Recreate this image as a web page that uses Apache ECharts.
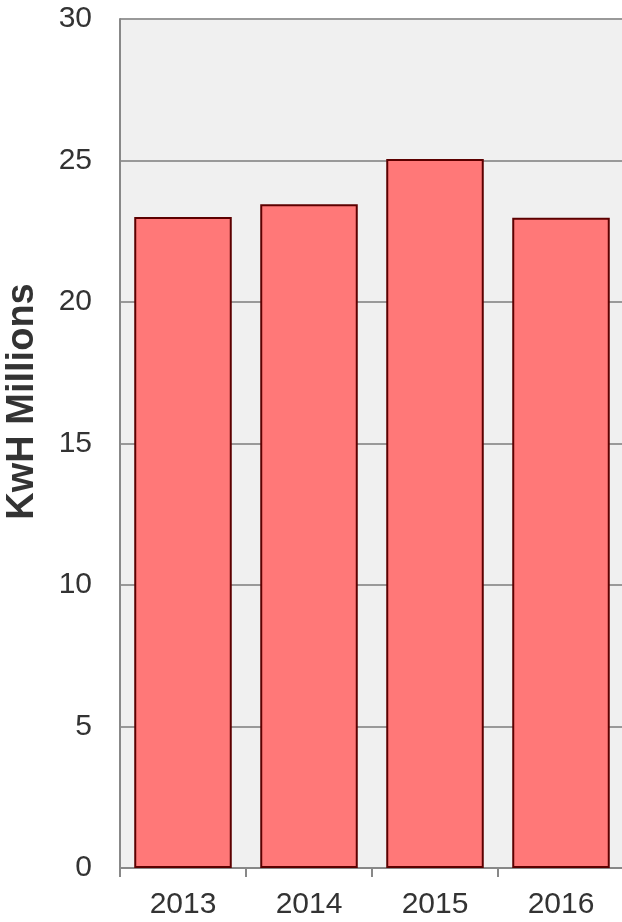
<!DOCTYPE html>
<html>
<head>
<meta charset="utf-8">
<script src="https://cdn.jsdelivr.net/npm/echarts@6/dist/echarts.min.js"></script>
<style>
  html, body { margin: 0; padding: 0; background: #ffffff; }
  #chart { width: 622px; height: 922px; }
</style>
</head>
<body>
<div id="chart"></div>
<script>
// Annual electricity use, millions of kWh
const years = ['2013', '2014', '2015', '2016'];
const kwhMillions = [23.0, 23.45, 25.05, 22.98];
const yTicks = { min: 0, max: 30, step: 5 };
const yTitle = 'KwH Millions';

const chart = echarts.init(document.getElementById('chart'), null, { renderer: 'canvas' });

chart.setOption({
  animation: false,
  backgroundColor: '#ffffff',
  textStyle: { fontFamily: 'Liberation Sans, Arial, sans-serif' },
  grid: {
    left: 120,
    right: -2,
    top: 19,
    bottom: 54,
    containLabel: false,
    outerBoundsMode: 'none',
    show: true,
    backgroundColor: '#f0f0f0',
    borderWidth: 0
  },
  xAxis: {
    type: 'category',
    data: years,
    axisLine: { show: true, lineStyle: { color: '#888888', width: 2 } },
    axisTick: { show: true, alignWithLabel: false, interval: 0, length: 9, lineStyle: { color: '#888888', width: 2 } },
    axisLabel: { color: '#333333', fontSize: 30, margin: 22, fontFamily: 'Liberation Sans, Arial, sans-serif' },
    splitLine: { show: false }
  },
  yAxis: {
    type: 'value',
    min: yTicks.min,
    max: yTicks.max,
    interval: yTicks.step,
    name: yTitle,
    nameLocation: 'middle',
    nameRotate: 90,
    nameGap: 78,
    nameTextStyle: {
      color: '#333333', fontSize: 38, fontWeight: 'bold',
      fontFamily: 'Liberation Sans, Arial, sans-serif',
      padding: [0, 0, 0, 84]
    },
    axisLine: { show: true, lineStyle: { color: '#888888', width: 2 } },
    axisTick: { show: false },
    axisLabel: { color: '#333333', fontSize: 30, margin: 28, fontFamily: 'Liberation Sans, Arial, sans-serif' },
    splitLine: { show: true, lineStyle: { color: '#999999', width: 2 } }
  },
  series: [{
    type: 'bar',
    data: kwhMillions,
    barCategoryGap: '22.6%',
    itemStyle: { color: '#ff7878', borderColor: '#5c0000', borderWidth: 2 }
  }]
});
</script>
</body>
</html>
